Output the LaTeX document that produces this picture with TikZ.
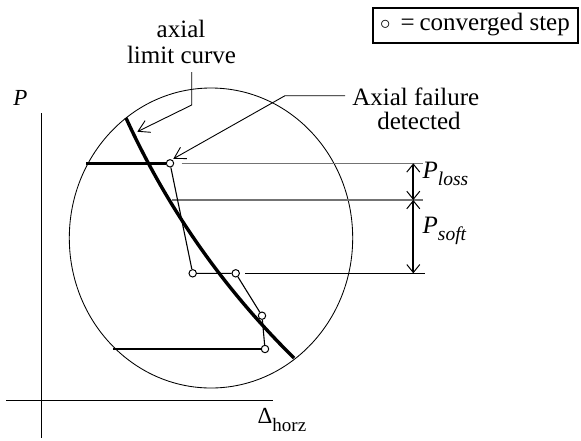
\documentclass[tikz,border=0pt]{standalone}
\usepackage{fontspec}
\setmainfont{Liberation Serif}
\usetikzlibrary{arrows.meta}
\tikzset{
  thinline/.style={line width=0.85pt, black},
  limitcurve/.style={line width=3.4pt, black},
  thickh/.style={line width=2.6pt, black},
  zig/.style={line width=1.1pt, black},
  greyline/.style={line width=1.4pt, color={rgb,255:red,115;green,115;blue,115}},
  mk/.style={circle, draw, line width=1pt, minimum size=7.4pt, inner sep=0pt},
  leader/.style={line width=0.9pt, -{Straight Barb[length=11pt,width=13pt,line width=0.9pt]}},
  dimarrow/.style={line width=2pt, {Straight Barb[length=8pt,width=13pt,line width=1pt]}-{Straight Barb[length=8pt,width=13pt,line width=1pt]}},
  lbl/.style={font=\fontsize{25}{30}\selectfont, inner sep=0pt},
}
\begin{document}
\begin{tikzpicture}[x=1pt,y=-1pt]
\useasboundingbox (0,0) rectangle (581,440);

% axes
\coordinate (vy0) at (41,113);
\coordinate (vy1) at (41,438);
\coordinate (hx0) at (6,400.7);
\coordinate (hx1) at (273,400.7);
\draw[thinline] (vy0) -- (vy1);
\draw[thinline] (hx0) -- (hx1);
\node[anchor=base, inner sep=0pt] (pax) at (20.5,105) {\fontsize{23}{23}\selectfont\textit{P}};
\node[anchor=base west, inner sep=0pt] (dhorz) at (257.5,423.3) {\fontsize{23}{23}\selectfont Δ\raisebox{-7.7pt}{\fontsize{19}{19}\selectfont horz}};

% circle (ellipse)
\draw[thinline] (211,238) ellipse [x radius=141.7pt, y radius=150pt];

% grey reference lines
\coordinate (g1a) at (181.7,163.3); \coordinate (g1b) at (423,163.3);
\coordinate (g2a) at (171.7,200);   \coordinate (g2b) at (423,200);
\coordinate (g3a) at (245,273.3);   \coordinate (g3b) at (425,273.3);
\draw[greyline] (g1a) -- (g1b);
\draw[greyline] (g2a) -- (g2b);
\draw[thinline] (g3a) -- (g3b);

% axial limit curve
\coordinate (c0) at (126,118);
\coordinate (c1) at (294,358);
\draw[limitcurve] (c0) .. controls (167.3,208.3) and (223.3,288.3) .. (c1);

% converged steps
\node[mk] (s1) at (170,163.3) {};
\node[mk] (s2) at (192.7,273.3) {};
\node[mk] (s3) at (235.7,273.3) {};
\node[mk] (s4) at (262,315.7) {};
\node[mk] (s5) at (265,349) {};
\draw[zig] (s1) -- (s2) -- (s3) -- (s4) -- (s5);

\coordinate (h1) at (86,163.3);
\coordinate (h2) at (113.3,349);
\draw[thickh] (h1) -- (s1);
\draw[thickh] (h2) -- (s5);

% dimension arrows
\coordinate (d1) at (413.3,163.3);
\coordinate (d2) at (413.3,200);
\coordinate (d3) at (413.3,273.3);
\draw[dimarrow] (d1) -- (d2);
\draw[dimarrow] (d2) -- (d3);
\node[anchor=base west, inner sep=0pt] (ploss) at (422.5,178.8) {\fontsize{25}{25}\selectfont\textit{P}\raisebox{-6.5pt}{\fontsize{19.5}{19.5}\selectfont\textit{loss}}};
\node[anchor=base west, inner sep=0pt] (psoft) at (422.5,233.8) {\fontsize{25}{25}\selectfont\textit{P}\raisebox{-6.5pt}{\fontsize{19.5}{19.5}\selectfont\textit{soft}}};

% labels with leaders
\node[lbl, anchor=base] (t1a) at (181,37.7) {axial};
\node[lbl, anchor=base] (t1b) at (181.5,63.3) {limit curve};
\coordinate (l1a) at (191.7,72);
\coordinate (l1b) at (191.7,105);
\coordinate (l1c) at (137.3,131.7);
\draw[leader] (l1a) -- (l1b) -- (l1c);

\node[lbl, anchor=base] (t2a) at (415.8,105.2) {Axial failure};
\node[lbl, anchor=base] (t2b) at (419,129) {detected};
\coordinate (l2a) at (345,95.7);
\coordinate (l2b) at (285,95.7);
\coordinate (l2c) at (173.3,158.8);
\draw[leader] (l2a) -- (l2b) -- (l2c);

% legend
\node[draw, line width=2pt, minimum width=205pt, minimum height=35pt, inner sep=0pt,
      font=\fontsize{25}{30}\selectfont] (legend) at (475,25)
  {\raisebox{1.5pt}{\fontsize{22}{22}\selectfont$\circ$}\hspace{10pt}=\hspace{5pt}converged step};
\end{tikzpicture}
\end{document}
